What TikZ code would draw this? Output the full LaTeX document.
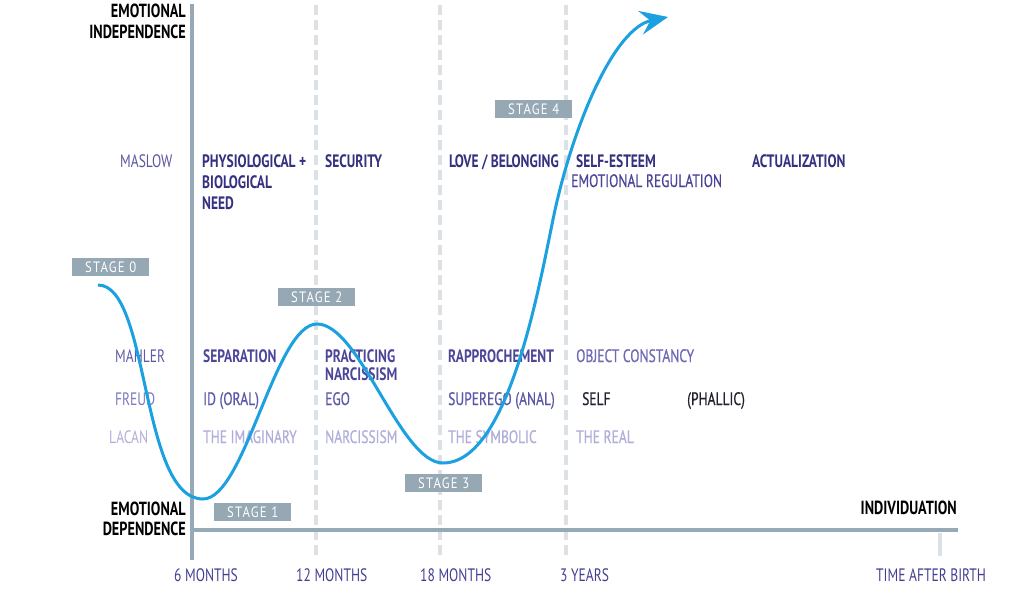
\documentclass[tikz,border=0pt]{standalone}
\usepackage{fontspec}
\setmainfont{PT Sans}[FakeStretch=0.75]
\newfontfamily\medfont{PT Sans}[FakeStretch=0.75,FakeBold=0.6]
\newfontfamily\stagefont{PT Sans}[FakeStretch=0.85,LetterSpace=8]
\usetikzlibrary{arrows.meta}
\definecolor{axisgray}{RGB}{150,169,182}
\definecolor{dashgray}{RGB}{220,225,229}
\definecolor{stagegray}{RGB}{149,168,180}
\definecolor{curveblue}{RGB}{27,160,224}
\definecolor{maslowlbl}{RGB}{90,86,160}
\definecolor{maslowtxt}{RGB}{53,48,127}
\definecolor{emoreg}{RGB}{74,69,152}
\definecolor{mahlerlbl}{RGB}{94,90,166}
\definecolor{mahlertxt}{RGB}{75,70,153}
\definecolor{objconst}{RGB}{109,105,178}
\definecolor{freudlbl}{RGB}{124,121,190}
\definecolor{freudtxt}{RGB}{92,88,168}
\definecolor{selftxt}{RGB}{36,33,47}
\definecolor{lacantxt}{RGB}{176,174,218}
\definecolor{timetxt}{RGB}{67,62,146}
\tikzset{
  lbl/.style={anchor=base west, inner sep=0pt, font=\fontsize{18}{20}\selectfont},
  lblm/.style={lbl, font=\medfont\fontsize{18}{20}\selectfont},
  lblb/.style={lbl, font=\fontsize{18}{20}\selectfont\bfseries},
  axlbl/.style={anchor=base east, inner sep=0pt, font=\fontsize{19}{21}\selectfont\bfseries, text=black},
  timelbl/.style={anchor=base west, inner sep=0pt, font=\fontsize{18}{20}\selectfont, text=timetxt},
  stagebox/.style={fill=stagegray, text=white, minimum width=77pt, minimum height=18pt, inner sep=0pt, anchor=north west, font=\stagefont\fontsize{15}{15}\selectfont},
  gridline/.style={draw=dashgray, line width=3.5pt, dash pattern=on 10pt off 5pt},
  axisline/.style={draw=axisgray, line width=4pt},
  curve/.style={draw=curveblue, line width=3pt, -{Stealth[length=28pt,width=24pt,inset=10pt]}}
}
\begin{document}
\begin{tikzpicture}[x=1pt,y=-1pt]
\useasboundingbox (0,0) rectangle (1024,599);
% grid lines
\coordinate (g12t) at (316,5); \coordinate (g12b) at (316,556);
\coordinate (g18t) at (440,5); \coordinate (g18b) at (440,556);
\coordinate (g3t) at (566,5); \coordinate (g3b) at (566,556);
\coordinate (gTt) at (940,533); \coordinate (gTb) at (940,556);
\draw[gridline] (g12t) -- (g12b);
\draw[gridline] (g18t) -- (g18b);
\draw[gridline] (g3t) -- (g3b);
\draw[draw=dashgray, line width=3.5pt] (gTt) -- (gTb);
% axes
\coordinate (vtop) at (192,4); \coordinate (vbot) at (192,560);
\coordinate (hl) at (192,530); \coordinate (hr) at (958,530);
\draw[axisline] (vtop) -- (vbot);
\draw[axisline] (hl) -- (hr);
% axis labels
\node[axlbl] (ei1) at (186,18) {EMOTIONAL};
\node[axlbl] (ei2) at (186,39) {INDEPENDENCE};
\node[axlbl] (ed1) at (186,515) {EMOTIONAL};
\node[axlbl] (ed2) at (186,535) {DEPENDENCE};
\node[axlbl] (ind) at (957,514) {INDIVIDUATION};
% time labels
\node[timelbl] (t6) at (174,581) {6 MONTHS};
\node[timelbl] (t12) at (296,581) {12 MONTHS};
\node[timelbl] (t18) at (420,581) {18 MONTHS};
\node[timelbl] (t3) at (560,581) {3 YEARS};
\node[timelbl] (tb) at (876,581) {TIME AFTER BIRTH};
% Maslow row
\node[lbl, text=maslowlbl] (maslow) at (120,167) {MASLOW};
\node[lblb, text=maslowtxt] (phys1) at (202,167) {PHYSIOLOGICAL +};
\node[lblb, text=maslowtxt] (phys2) at (202,188) {BIOLOGICAL};
\node[lblb, text=maslowtxt] (phys3) at (202,209) {NEED};
\node[lblb, text=maslowtxt] (sec) at (325,167) {SECURITY};
\node[lblb, text=maslowtxt] (love) at (449,167) {LOVE / BELONGING};
\node[lblb, text=maslowtxt] (esteem) at (576,167) {SELF-ESTEEM};
\node[lblm, text=emoreg] (emoreg) at (571,187) {EMOTIONAL REGULATION};
\node[lblb, text=maslowtxt] (actual) at (752,167) {ACTUALIZATION};
% Mahler row
\node[lbl, text=mahlerlbl] (mahler) at (115,362) {MAHLER};
\node[lblb, text=mahlertxt] (sep) at (203,362) {SEPARATION};
\node[lblb, text=mahlertxt] (prac1) at (325,362) {PRACTICING};
\node[lblb, text=mahlertxt] (prac2) at (325,380) {NARCISSISM};
\node[lblb, text=mahlertxt] (rapp) at (448,362) {RAPPROCHEMENT};
\node[lblm, text=objconst] (objc) at (576,362) {OBJECT CONSTANCY};
% Freud row
\node[lbl, text=freudlbl] (freud) at (115,405) {FREUD};
\node[lblm, text=freudtxt] (id) at (203,405) {ID (ORAL)};
\node[lblm, text=freudtxt] (ego) at (325,405) {EGO};
\node[lblm, text=freudtxt] (superego) at (448,405) {SUPEREGO (ANAL)};
\node[lblm, text=selftxt] (self) at (582,405) {SELF};
\node[lblm, text=selftxt] (phallic) at (687,405) {(PHALLIC)};
% Lacan row
\node[lbl, text=lacantxt] (lacan) at (109,443) {LACAN};
\node[lblm, text=lacantxt] (imag) at (203,443) {THE IMAGINARY};
\node[lblm, text=lacantxt] (narc) at (325,443) {NARCISSISM};
\node[lblm, text=lacantxt] (symb) at (448,443) {THE SYMBOLIC};
\node[lblm, text=lacantxt] (real) at (576,443) {THE REAL};
% stage boxes
\node[stagebox] (s0) at (72,258) {STAGE 0};
\node[stagebox] (s1) at (214,503) {STAGE 1};
\node[stagebox] (s2) at (278,288) {STAGE 2};
\node[stagebox] (s3) at (405,474) {STAGE 3};
\node[stagebox] (s4) at (495,100) {STAGE 4};
% curve
\coordinate (c0) at (98,285);
\coordinate (c1) at (203,499);
\coordinate (c2) at (317,324);
\coordinate (c3) at (443,463);
\coordinate (c4) at (555,210);
\coordinate (c5) at (668,17);
\draw[curve] (c0) .. controls (150,285) and (140,499) .. (c1)
  .. controls (245,499) and (275,324) .. (c2)
  .. controls (360,324) and (400,463) .. (c3)
  .. controls (510,463) and (540,280) .. (c4)
  .. controls (575,120) and (615,28) .. (c5);
\end{tikzpicture}
\end{document}
